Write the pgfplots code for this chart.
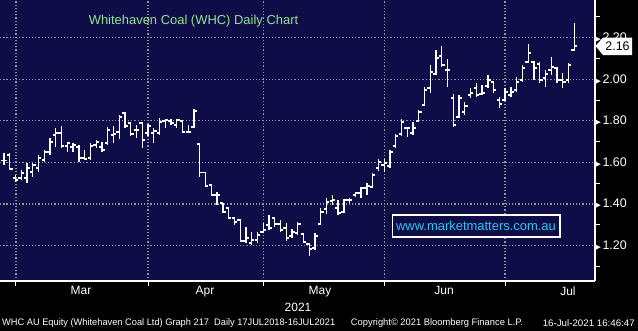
\documentclass[border=0pt]{standalone}
\usepackage{pgfplots}
\usepackage{pgfplotstable}
\usepackage{graphicx}
\pgfplotsset{compat=1.18}
\usepackage{fontspec}
\setmainfont{Liberation Sans}
\newfontfamily\dejavu{DejaVu Sans}
\definecolor{bgnavy}{RGB}{15,13,72}
\definecolor{gridgray}{RGB}{150,150,150}
\definecolor{titlegreen}{RGB}{140,230,140}
\definecolor{wmcyan}{RGB}{40,200,240}
\pgfdeclareplotmark{openTick}{\pgfpathmoveto{\pgfpoint{-2.8bp}{0pt}}\pgfpathlineto{\pgfpoint{0.6bp}{0pt}}\pgfusepathqstroke}
\pgfdeclareplotmark{closeTick}{\pgfpathmoveto{\pgfpoint{-0.6bp}{0pt}}\pgfpathlineto{\pgfpoint{2.8bp}{0pt}}\pgfusepathqstroke}
\pgfplotstableread{
i o h l c
0 1.608 1.647 1.588 1.608
1 1.636 1.644 1.564 1.569
2 1.525 1.540 1.507 1.516
3 1.525 1.564 1.516 1.549
4 1.525 1.597 1.503 1.573
5 1.554 1.597 1.531 1.588
6 1.573 1.636 1.556 1.621
7 1.612 1.660 1.604 1.650
8 1.650 1.718 1.636 1.698
9 1.732 1.766 1.676 1.742
10 1.742 1.775 1.669 1.679
11 1.679 1.700 1.652 1.694
12 1.674 1.694 1.652 1.684
13 1.674 1.684 1.604 1.621
14 1.621 1.660 1.612 1.617
15 1.621 1.695 1.612 1.679
16 1.684 1.708 1.668 1.698
17 1.674 1.700 1.652 1.660
18 1.694 1.772 1.684 1.756
19 1.732 1.775 1.695 1.737
20 1.746 1.828 1.713 1.819
21 1.838 1.844 1.766 1.775
22 1.790 1.796 1.727 1.737
23 1.756 1.780 1.718 1.756
24 1.790 1.796 1.669 1.708
25 1.742 1.785 1.727 1.775
26 1.742 1.766 1.694 1.751
27 1.742 1.814 1.732 1.794
28 1.799 1.809 1.766 1.804
29 1.799 1.809 1.780 1.790
30 1.780 1.809 1.766 1.804
31 1.799 1.799 1.742 1.746
32 1.746 1.780 1.742 1.746
33 1.770 1.857 1.766 1.847
34 1.689 1.694 1.530 1.551
35 1.551 1.556 1.483 1.487
36 1.492 1.496 1.439 1.444
37 1.444 1.459 1.395 1.444
38 1.405 1.405 1.357 1.362
39 1.381 1.387 1.328 1.333
40 1.333 1.339 1.299 1.314
41 1.323 1.328 1.219 1.222
42 1.222 1.290 1.214 1.237
43 1.213 1.267 1.203 1.227
44 1.227 1.267 1.214 1.251
45 1.266 1.309 1.261 1.275
46 1.299 1.347 1.275 1.285
47 1.333 1.333 1.290 1.304
48 1.304 1.323 1.267 1.275
49 1.285 1.310 1.224 1.237
50 1.246 1.280 1.237 1.266
51 1.261 1.315 1.251 1.304
52 1.256 1.261 1.213 1.218
53 1.208 1.213 1.150 1.184
54 1.189 1.261 1.179 1.246
55 1.304 1.381 1.299 1.362
56 1.376 1.429 1.352 1.410
57 1.415 1.444 1.395 1.420
58 1.381 1.420 1.347 1.357
59 1.362 1.424 1.357 1.420
60 1.420 1.429 1.405 1.420
61 1.444 1.459 1.435 1.453
62 1.453 1.483 1.429 1.477
63 1.477 1.503 1.444 1.487
64 1.482 1.549 1.482 1.540
65 1.573 1.617 1.560 1.602
66 1.588 1.617 1.556 1.597
67 1.583 1.660 1.573 1.650
68 1.679 1.737 1.669 1.727
69 1.737 1.809 1.727 1.794
70 1.766 1.772 1.724 1.766
71 1.742 1.794 1.732 1.766
72 1.799 1.852 1.796 1.843
73 1.876 1.964 1.871 1.948
74 1.958 2.069 1.934 2.035
75 2.025 2.141 2.025 2.102
76 2.112 2.160 2.060 2.069
77 2.044 2.097 1.963 2.044
78 1.910 1.929 1.770 1.780
79 1.819 1.924 1.814 1.910
80 1.843 1.892 1.828 1.871
81 1.924 1.958 1.910 1.934
82 1.958 1.983 1.915 1.924
83 1.929 1.972 1.924 1.934
84 1.968 2.020 1.958 1.996
85 1.987 1.993 1.934 1.948
86 1.900 1.916 1.862 1.881
87 1.900 1.958 1.900 1.939
88 1.924 1.963 1.915 1.939
89 1.948 2.011 1.939 1.987
90 1.996 2.069 1.987 2.054
91 2.083 2.169 2.078 2.126
92 2.083 2.088 1.996 2.054
93 2.073 2.083 1.982 1.996
94 2.006 2.044 1.963 2.025
95 2.044 2.107 2.020 2.059
96 2.054 2.060 1.982 1.996
97 1.996 2.031 1.958 1.987
98 1.996 2.078 1.982 2.069
99 2.141 2.270 2.136 2.160
}\ohlc
\begin{document}
\begin{tikzpicture}
\useasboundingbox (0,0) rectangle (638bp,-331bp);
\fill[black] (0,0) rectangle (638bp,-331bp);
\fill[bgnavy] (0,0) rectangle (595bp,-281bp);
\begin{axis}[
  at={(0,0)}, anchor=north west,
  scale only axis, width=595bp, height=281bp,
  xmin=-0.694, xmax=102.6, ymin=1.030, ymax=2.381,
  axis x line*=bottom, axis y line*=right,
  axis line style={white, line width=1.1bp},
  xtick={13.37,34.9,54.86,76.39,97.9},
  xticklabels={Mar,Apr,May,Jun,Jul},
  minor xtick={2.08,25,45,66,87},
  xticklabel style={font=\fontsize{12}{14}\selectfont, text=white, anchor=north, inner sep=0pt, yshift=-5.5bp},
  ytick={1.2,1.4,1.6,1.8,2.0,2.2},
  minor ytick={1.1,1.3,1.5,1.7,1.9,2.1,2.3},
  xminorgrids, ymajorgrids,
  major grid style={gridgray, line width=1.3bp, dash pattern=on 1.3bp off 1.9bp},
  minor grid style={gridgray, line width=1.3bp, dash pattern=on 1.3bp off 1.9bp},
  tick align=outside,
  major tick length=0pt, minor tick length=4.5bp,
  tick style={white, line width=1bp},
  yticklabel pos=right,
  /pgf/number format/assume math mode=true,
  yticklabel={{\dejavu\fontsize{7}{7}\selectfont\textcolor{white}{▶}}\hspace{1.5bp}\pgfmathprintnumber[fixed,fixed zerofill,precision=2]{\tick}},
  yticklabel style={anchor=west, inner sep=0pt, xshift=0.5bp, font=\fontsize{12.5}{14}\selectfont, text=white},
]
\addplot[white, only marks, mark=openTick, mark options={line width=1.3bp, solid},
  error bars/.cd, y dir=both, y explicit, error mark=none,
  error bar style={line width=1.3bp, white, solid}]
  table[x=i, y=o, y error plus expr=\thisrow{h}-\thisrow{o}, y error minus expr=\thisrow{o}-\thisrow{l}] {\ohlc};
\addplot[white, only marks, mark=closeTick, mark options={line width=1.3bp, solid}]
  table[x=i, y=c] {\ohlc};
\end{axis}
\node[text=titlegreen, font=\fontsize{13}{15}\selectfont] at (193.5bp,-21bp) {Whitehaven Coal (WHC) Daily Chart};
\draw[white, line width=1.8bp, fill=bgnavy] (392.5bp,-215bp) rectangle (560bp,-237bp);
\node[text=wmcyan, font=\fontsize{13}{15}\selectfont] at (476bp,-226bp) {www.marketmatters.com.au};
\fill[white] (595.5bp,-46bp) -- (603bp,-37.5bp) -- (632bp,-37.5bp) -- (632bp,-55bp) -- (603bp,-55bp) -- cycle;
\node[text=black, font=\fontsize{12.5}{14}\selectfont, inner sep=0pt] at (617.5bp,-46.3bp) {2.16};
\node[text=white, font=\fontsize{12}{14}\selectfont] at (298bp,-307bp) {2021};
\node[text=white, anchor=west, inner sep=0pt, font=\fontsize{9.5}{11}\selectfont] at (2bp,-323.5bp) {\resizebox{333bp}{\height}{WHC AU Equity (Whitehaven Coal Ltd) Graph 217\ \ Daily 17JUL2018-16JUL2021}};
\node[text=white, inner sep=0pt, font=\fontsize{9.5}{11}\selectfont] at (437bp,-323.5bp) {\resizebox{172bp}{\height}{Copyright© 2021 Bloomberg Finance L.P.}};
\node[text=white, anchor=east, inner sep=0pt, font=\fontsize{9.5}{11}\selectfont] at (635bp,-323.5bp) {\resizebox{92bp}{\height}{16-Jul-2021 16:46:47}};
\end{tikzpicture}
\end{document}
